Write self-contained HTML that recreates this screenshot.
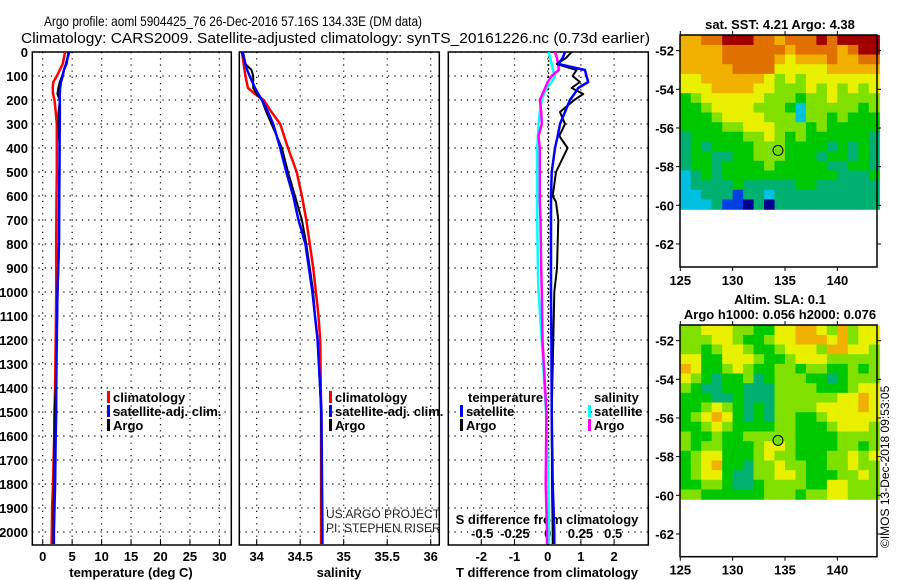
<!DOCTYPE html>
<html><head><meta charset="utf-8"><style>
body{margin:0;background:#fff}
svg{display:block;font-family:"Liberation Sans",sans-serif}
</style></head><body>
<svg id="c" width="900" height="580" viewBox="0 0 900 580">
<text x="44" y="26" font-size="14" textLength="378" lengthAdjust="spacingAndGlyphs">Argo profile: aoml 5904425_76 26-Dec-2016 57.16S 134.33E (DM data)</text>
<text x="21" y="43" font-size="15" textLength="629" lengthAdjust="spacingAndGlyphs">Climatology: CARS2009. Satellite-adjusted climatology: synTS_20161226.nc (0.73d earlier)</text>
<g id="g"></g>
</svg>
<script>
// ---- profile data ----
const tempDepth=[0,50,75,100,125,150,175,200,250,300,400,500,600,800,1000,1200,1400,1500,1600,1700,1800,1900,2000,2050];
const tempArgo=[4.35,4.07,3.6,3.3,2.9,2.65,2.5,2.9,2.7,2.6,2.9,2.8,2.8,2.8,2.55,2.4,2.2,2.0,2.0,1.95,1.9,1.85,1.8,1.8];
const tempClim=[3.8,3.4,2.9,2.4,1.8,1.7,1.75,2.0,2.2,2.4,2.4,2.4,2.35,2.3,2.3,2.2,2.1,2.0,1.95,1.85,1.75,1.6,1.55,1.5];
const tempSat=[4.5,3.95,3.6,3.4,3.1,2.95,2.9,2.9,2.9,2.9,2.85,2.85,2.8,2.75,2.5,2.4,2.3,2.3,2.2,2.15,2.1,2.0,1.9,1.9];
const salDepth=[0,50,75,100,150,175,200,250,300,400,500,600,700,800,900,1000,1100,1200,1500,2000,2050];
const salArgo=[33.83,33.87,33.94,33.96,33.96,34.0,34.06,34.11,34.17,34.29,34.36,34.44,34.52,34.57,34.61,34.65,34.67,34.70,34.74,34.75,34.75];
const salClim=[33.83,33.85,33.86,33.87,33.90,33.98,34.08,34.17,34.27,34.36,34.46,34.52,34.57,34.61,34.65,34.68,34.71,34.73,34.74,34.74,34.74];
const salSat=[33.84,33.87,33.89,33.92,33.98,34.02,34.06,34.13,34.19,34.27,34.34,34.42,34.48,34.56,34.60,34.64,34.67,34.70,34.745,34.755,34.755];
const dDepth=[0,25,50,75,100,125,150,175,200,250,300,350,400,500,600,625,700,900,1000,1200,1500,1800,2000,2050];
const dTSat=[0.52,0.45,0.32,1.12,1.17,1.22,0.92,0.8,0.67,0.52,0.37,0.3,0.22,0.12,0.1,0.1,0.1,0.1,0.1,0.11,0.12,0.15,0.2,0.2];
const dTArgo=[0.72,0.55,0.27,0.87,0.75,0.97,0.72,1.07,0.8,0.37,0.52,0.35,0.6,0.25,0.15,0.25,0.32,0.28,0.2,0.17,0.12,0.13,0.15,0.15];
const dSArgo=[0.056,0.07,0.08,0.085,0.03,0.0,-0.02,-0.04,-0.06,-0.05,-0.045,-0.07,-0.06,-0.06,-0.06,-0.06,-0.055,-0.05,-0.045,-0.04,-0.01,-0.015,-0.005,-0.005];
const dSSat=[0.005,0.02,0.03,0.04,0.056,0.03,-0.008,-0.03,-0.045,-0.06,-0.07,-0.075,-0.08,-0.08,-0.08,-0.08,-0.08,-0.075,-0.07,-0.045,-0.013,0.005,0.01,0.01];
const depthTicks=[0,100,200,300,400,500,600,700,800,900,1000,1100,1200,1300,1400,1500,1600,1700,1800,1900,2000];
const tempTicks=[0,5,10,15,20,25,30];
const salTicks=[34,34.5,35,35.5,36];
const salTickLabels=["34","34.5","35","35.5","36"];
const dTTicks=[-2,-1,0,1,2];
const dSTicks=[-0.5,-0.25,0,0.25,0.5];
const dSTickLabels=["-0.5","-0.25","0","0.25","0.5"];
// ---- map data (colour index per cell, 1 deg lon x 0.5 deg lat) ----
const sstRows=["7788999887888989999","7777888888788887899","7777888887677787788","7777788886666677777","6677777765656666666","6667777665556565656","4566666655545565555","4456666555425555545","4445666655525545444","4444556665554544444","3444445565454444443","3434444555444434343","3443344555444344343","3443444454444433443","2343444444444443334","2333343333344333333","2233313323333333333","2223110303333333333"];
const slaRows=["5566655446677657566","5556654456677767566","5545665445666577665","6644666544566655555","7644565445545544545","6543445345554434555","5433443335555444566","4443343335555556676","4456543435555666676","4567643435544566666","4456544445544456665","5445445555544445555","5455444566544445545","4566444565544455656","4567443556554455655","4566433556654445565","4455433455554466555","5544444455545566555"];
const palette=["#000090","#0040e0","#00c0e0","#00b070","#00c800","#80e000","#e8f000","#f0b000","#e07000","#a00000"];
const lonTicks=[125,130,135,140];
const latTicks=[-52,-54,-56,-58,-60,-62];
const floatLon=134.33, floatLat=-57.16;

const NS="http://www.w3.org/2000/svg";
const G=document.getElementById('g');
function mk(t,a,p){const e=document.createElementNS(NS,t);for(const k in a)e.setAttribute(k,a[k]);(p||G).appendChild(e);return e;}
const y=d=>52+d*0.24;
const PB=545;
const xT=v=>42.7+v*5.89, xS=v=>256.7+(v-34)*87, xDT=v=>547.7+v*33.2, xDS=v=>547.7+v*131;

function panel(x0,x1,gx,name){
  const r=mk('rect',{x:x0,y:52,width:x1-x0,height:PB-52,fill:'#fff',stroke:'#000','stroke-width':1.5});
  
  
  depthTicks.forEach(d=>{const l=mk('line',{x1:x0,x2:x1,y1:y(d),y2:y(d),stroke:'#000','stroke-dasharray':'1.2,5','stroke-width':1.2});
    });
  gx.forEach(v=>{const l=mk('line',{x1:v,x2:v,y1:52,y2:PB,stroke:'#000','stroke-dasharray':'1.2,5','stroke-width':1.2});
    
    const t=mk('line',{x1:v,x2:v,y1:PB,y2:PB-6,stroke:'#000'});});
}
panel(32.3,231.3,tempTicks.map(xT),'temperature-panel');
panel(239.3,439.3,salTicks.map(xS),'salinity-panel');
panel(448.3,648.3,dTTicks.map(xDT),'difference-panel');
const z=mk('line',{x1:xDT(0)+1,x2:xDT(0)+1,y1:52,y2:PB,stroke:'#000','stroke-dasharray':'2,2'});


function txt(x,yy,s,o,name){const t=mk('text',Object.assign({x:x,y:yy,'font-size':13,'font-weight':'bold'},o||{}));t.textContent=s;
  return t;}
depthTicks.forEach(d=>txt(28,y(d)+5,String(d),{'text-anchor':'end'},'depth-tick-label'));
tempTicks.forEach(v=>txt(xT(v),561,String(v),{'text-anchor':'middle'},'temperature-tick-label'));
salTickLabels.forEach((s,i)=>txt(xS(salTicks[i]),561,s,{'text-anchor':'middle'},'salinity-tick-label'));
dTTicks.forEach(v=>txt(xDT(v),561,String(v),{'text-anchor':'middle'},'t-diff-tick-label'));
dSTickLabels.forEach((s,i)=>txt(xDS(dSTicks[i]),538,s,{'text-anchor':'middle'},'s-diff-tick-label'));
txt(131,577,'temperature (deg C)',{'text-anchor':'middle'},'temperature-axis-title');
txt(339,577,'salinity',{'text-anchor':'middle'},'salinity-axis-title');
txt(547,577,'T difference from climatology',{'text-anchor':'middle'},'t-diff-axis-title');
txt(547,524,'S difference from climatology',{'text-anchor':'middle'},'s-diff-axis-title');

function line(xs,ds,xf,col,w,name){
  const pts=ds.map((d,i)=>xf(xs[i]).toFixed(1)+','+y(d).toFixed(1)).join(' ');
  const p=mk('polyline',{points:pts,fill:'none',stroke:col,'stroke-width':w,'stroke-linejoin':'round'});
  
}
line(tempClim,tempDepth,xT,'#f00',2.5,'temp-climatology-line');
line(tempArgo,tempDepth,xT,'#000',2,'temp-argo-line');
line(tempSat,tempDepth,xT,'#00f',2.5,'temp-satellite-line');
line(salClim,salDepth,xS,'#f00',2.5,'sal-climatology-line');
line(salArgo,salDepth,xS,'#000',2,'sal-argo-line');
line(salSat,salDepth,xS,'#00f',2.5,'sal-satellite-line');
line(dSSat,dDepth,xDS,'#0ff',2.5,'sdiff-satellite-line');
line(dSArgo,dDepth,xDS,'#f0f',2.5,'sdiff-argo-line');
line(dTArgo,dDepth,xDT,'#000',2,'tdiff-argo-line');
line(dTSat,dDepth,xDT,'#00f',2.5,'tdiff-satellite-line');

function leg(x,yy,col,s,name){const m=mk('rect',{x:x,y:yy-11,width:3,height:12,fill:col});
  
  txt(x+6,yy,s,{},name);}
leg(107,402,'#f00','climatology','legend-climatology');
leg(107,416,'#00f','satellite-adj. clim.','legend-satellite');
leg(107,430,'#000','Argo','legend-argo');
leg(329,402,'#f00','climatology','legend2-climatology');
leg(329,416,'#00f','satellite-adj. clim.','legend2-satellite');
leg(329,430,'#000','Argo','legend2-argo');
txt(468,402,'temperature',{},'legend-temperature-heading');
leg(460,416,'#00f','satellite','legend-t-satellite');
leg(460,430,'#000','Argo','legend-t-argo');
txt(594,402,'salinity',{},'legend-salinity-heading');
leg(588,416,'#0ff','satellite','legend-s-satellite');
leg(588,430,'#f0f','Argo','legend-s-argo');
['US ARGO PROJECT','PI: STEPHEN RISER'].forEach((s,i)=>{const t=mk('text',{x:326,y:518+i*14,'font-size':12,fill:'#222'});t.textContent=s;
  });

// ---- maps ----
function map(top,bottom,latTop,rows,title,name){
  const x0=680,x1=877, lx=v=>680.3+(v-125)*10.47;
  const ly=v=>(top)+(latTop-v)*19.33;
  const f=mk('rect',{x:x0,y:top,width:x1-x0,height:bottom-top,fill:'#fff'});
  
  rows.forEach((r,ri)=>{
    const la0=-51.2-ri*0.5;
    for(let ci=0;ci<r.length;ci++){
      const c=mk('rect',{x:lx(125+ci).toFixed(1),y:ly(la0).toFixed(1),width:(10.47+0.6).toFixed(1),height:(ri==0?ly(-51.7)-top:9.67)+0.6,fill:palette[+r[ci]]});
      if(ri==0)c.setAttribute('y',top);
      
    }
  });
  const b=mk('rect',{x:x0,y:top,width:x1-x0,height:bottom-top,fill:'none',stroke:'#000','stroke-width':1.5});
  
  lonTicks.forEach(v=>{mk('line',{x1:lx(v),x2:lx(v),y1:top,y2:top-4,stroke:'#000'});mk('line',{x1:lx(v),x2:lx(v),y1:bottom,y2:bottom+4,stroke:'#000'});
    txt(lx(v),bottom+18,String(v),{'text-anchor':'middle'},name+'-lon-label');});
  latTicks.forEach(v=>{mk('line',{x1:x0-4,x2:x0,y1:ly(v),y2:ly(v),stroke:'#000'});mk('line',{x1:x1,x2:x1+4,y1:ly(v),y2:ly(v),stroke:'#000'});
    txt(x0-6,ly(v)+5,String(v),{'text-anchor':'end'},name+'-lat-label');});
  const m=mk('circle',{cx:lx(floatLon),cy:ly(floatLat),r:5,fill:'#70e000',stroke:'#000'});
  
  title.forEach((s,i)=>txt(780,top-(title.length-i)*15+9,s,{'text-anchor':'middle'},name+'-title'));
}
map(35,267,-51.19,sstRows,['sat. SST: 4.21 Argo: 4.38'],'sst-map');
map(325,556.7,-51.19,slaRows,['Altim. SLA: 0.1','Argo h1000: 0.056 h2000: 0.076'],'sla-map');
const im=mk('text',{x:0,y:0,'font-size':12,transform:'translate(889,548) rotate(-90)'});
im.textContent='©IMOS 13-Dec-2018 09:53:05';

</script>
</body></html>
